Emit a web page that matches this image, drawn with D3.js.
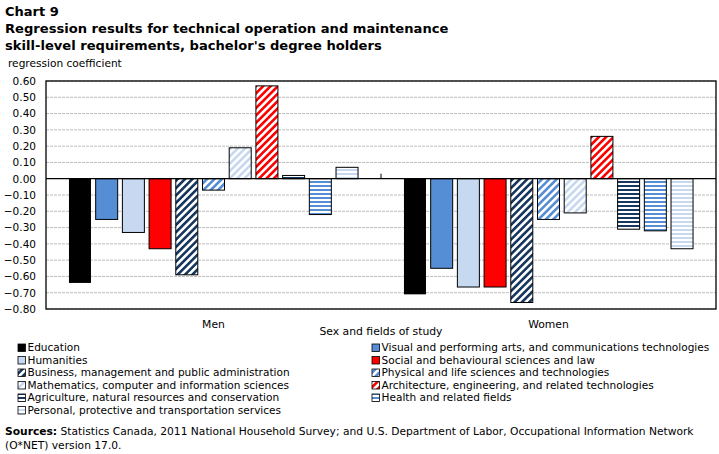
<!DOCTYPE html>
<html><head><meta charset="utf-8">
<script src="https://cdn.jsdelivr.net/npm/d3@7"></script>
<style>body{margin:0;background:#fff}svg{display:block}text{font-family:"DejaVu Sans",Verdana,sans-serif}</style>
</head><body><svg id="c" width="719" height="454"></svg>
<script>
const groups = ["Men", "Women"];
const categories = [
  "Education",
  "Visual and performing arts, and communications technologies",
  "Humanities",
  "Social and behavioural sciences and law",
  "Business, management and public administration",
  "Physical and life sciences and technologies",
  "Mathematics, computer and information sciences",
  "Architecture, engineering, and related technologies",
  "Agriculture, natural resources and conservation",
  "Health and related fields",
  "Personal, protective and transportation services"
];
const menValues   = [-0.64, -0.25, -0.33, -0.43, -0.59, -0.07, 0.19, 0.57, 0.02, -0.22, 0.07];
const womenValues = [-0.71, -0.55, -0.665, -0.665, -0.76, -0.25, -0.21, 0.26, -0.31, -0.32, -0.43];
const yTicks = [0.6,0.5,0.4,0.3,0.2,0.1,0,-0.1,-0.2,-0.3,-0.4,-0.5,-0.6,-0.7,-0.8];

const navy="#17375E", mid="#558ED5", light="#C6D9F1", red="#FF0000";
const styles = [
  ["solid","#000"],["solid",mid],["solid",light],["solid",red],
  ["diag",navy],["diag",mid],["diag",light],["diag",red],
  ["horiz",navy],["horiz",mid],["horiz",light]
];

const svg = d3.select("#c");
const defs = svg.append("defs");
styles.forEach((s,i)=>{
  if(s[0]==="diag"){
    const p = defs.append("pattern").attr("id","p"+i).attr("patternUnits","userSpaceOnUse")
      .attr("width",5.2).attr("height",5.2).attr("patternTransform","rotate(45)");
    p.append("rect").attr("width",5.2).attr("height",5.2).attr("fill","#fff");
    p.append("rect").attr("width",2.6).attr("height",5.2).attr("fill",s[1]);
  } else if(s[0]==="horiz"){
    const p = defs.append("pattern").attr("id","p"+i).attr("patternUnits","userSpaceOnUse")
      .attr("width",4).attr("height",4);
    p.append("rect").attr("width",4).attr("height",4).attr("fill","#fff");
    p.append("rect").attr("width",4).attr("height",2).attr("y",1).attr("fill",s[1]);
  }
});
const fillOf = i => styles[i][0]==="solid" ? styles[i][1] : `url(#p${i})`;

const L=46, R=716, T=81, B=309;
const x0 = d3.scaleBand().domain(groups).range([L,R]);
const x1 = d3.scaleBand().domain(categories).range([0,x0.bandwidth()]).paddingInner(0.176).paddingOuter(0.86);
const y = d3.scaleLinear().domain([-0.8,0.6]).range([B,T]);

// title
svg.append("text").attr("x",5).attr("y",16).attr("font-weight","bold").attr("font-size",13).text("Chart 9");
svg.append("text").attr("x",5).attr("y",33).attr("font-weight","bold").attr("font-size",13.1).text("Regression results for technical operation and maintenance");
svg.append("text").attr("x",5).attr("y",50).attr("font-weight","bold").attr("font-size",13.1).text("skill-level requirements, bachelor's degree holders");
svg.append("text").attr("x",8).attr("y",67).attr("font-size",10.6).text("regression coefficient");

// grid
svg.append("g").selectAll("line").data(yTicks.filter(t=>t!==0)).join("line")
  .attr("x1",L).attr("x2",R).attr("y1",d=>y(d)).attr("y2",d=>y(d))
  .attr("stroke","#bdbdbd").attr("stroke-width",1).attr("stroke-dasharray","3,1");

// y axis labels
const yAxis = d3.axisLeft(y).tickValues(yTicks).tickSize(0).tickPadding(10).tickFormat(d3.format(".2f"));
const ga = svg.append("g").attr("transform",`translate(${L},0)`).call(yAxis);
ga.select(".domain").remove();
ga.selectAll("text").attr("font-size",10.5).attr("fill","#000").style("font-family","'DejaVu Sans',Verdana,sans-serif");

// bars
const data = groups.map((g,gi)=>({g, vals:(gi===0?menValues:womenValues)}));
const gg = svg.append("g").selectAll("g").data(data).join("g").attr("transform",d=>`translate(${x0(d.g)},0)`);
gg.selectAll("rect").data(d=>d.vals.map((v,i)=>({v,i,c:categories[i]}))).join("rect")
  .attr("x",d=>x1(d.c)).attr("width",x1.bandwidth())
  .attr("y",d=>y(Math.max(0,d.v))).attr("height",d=>Math.abs(y(d.v)-y(0)))
  .attr("fill",d=>fillOf(d.i))
  .attr("stroke",d=>d.i===0?"none":"#000").attr("stroke-width",1);

// zero line, frame, divider tick
svg.append("line").attr("x1",L).attr("x2",R).attr("y1",y(0)).attr("y2",y(0)).attr("stroke","#000").attr("stroke-width",1.3);
svg.append("rect").attr("x",L).attr("y",T).attr("width",R-L).attr("height",B-T).attr("fill","none").attr("stroke","#000").attr("stroke-width",1.3);
svg.append("line").attr("x1",x0("Women")).attr("x2",x0("Women")).attr("y1",y(0)-5).attr("y2",y(0)).attr("stroke","#000");

// x labels
groups.forEach(g=>{
  svg.append("text").attr("x",x0(g)+x0.bandwidth()/2).attr("y",328).attr("text-anchor","middle").attr("font-size",10.8).text(g);
});
svg.append("text").attr("x",(L+R)/2).attr("y",335).attr("text-anchor","middle").attr("font-size",10.8).text("Sex and fields of study");

// legend
const lg = svg.append("g");
categories.forEach((c,i)=>{
  const col = i%2, row = Math.floor(i/2);
  const lx = col===0?18:372, ly = 347.5+row*12.5;
  lg.append("rect").attr("x",lx).attr("y",ly-3.5).attr("width",7.5).attr("height",7.5)
    .attr("fill",fillOf(i)).attr("stroke","#000").attr("stroke-width",0.8);
  lg.append("text").attr("x",lx+9.5).attr("y",ly+3.8).attr("font-size",10.55).text(c);
});

// source
const s1 = svg.append("text").attr("x",5).attr("y",435).attr("font-size",10.7);
s1.append("tspan").attr("font-weight","bold").text("Sources:");
s1.append("tspan").text(" Statistics Canada, 2011 National Household Survey; and U.S. Department of Labor, Occupational  Information Network");
svg.append("text").attr("x",5).attr("y",449).attr("font-size",10.7).text("(O*NET) version 17.0.");
</script></body></html>
